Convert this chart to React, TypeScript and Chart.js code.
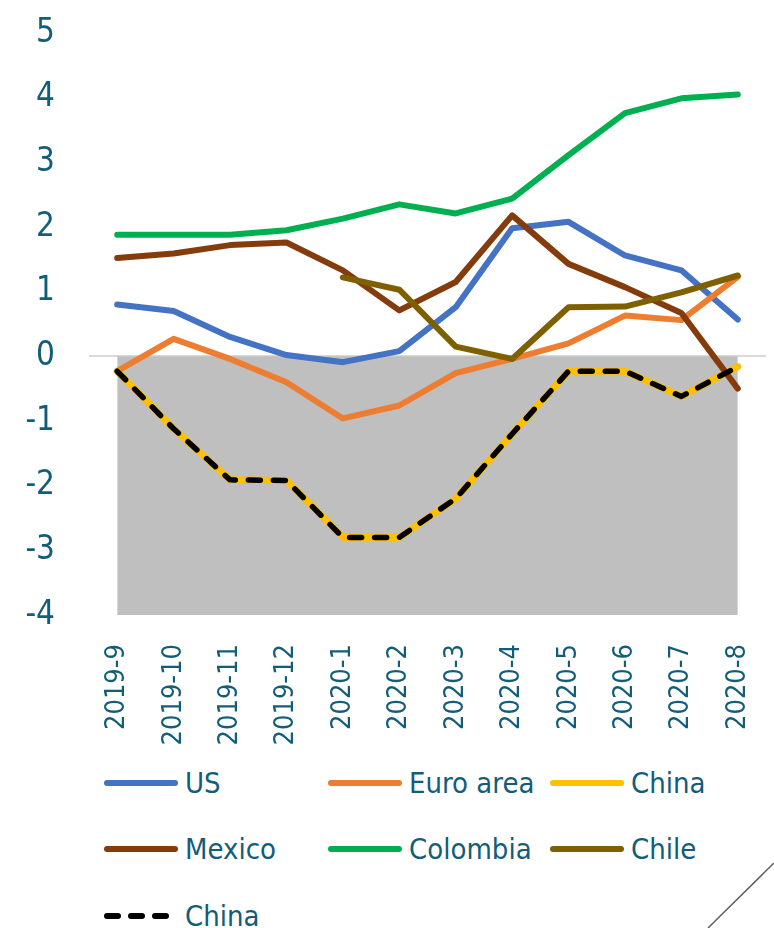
import React, { useEffect, useRef } from "react";
import { Chart, registerables } from "chart.js";

Chart.register(...registerables);

const categories = ["2019-9", "2019-10", "2019-11", "2019-12", "2020-1", "2020-2", "2020-3", "2020-4", "2020-5", "2020-6", "2020-7", "2020-8"];
const usValues = [0.80, 0.70, 0.30, 0.02, -0.09, 0.08, 0.76, 1.98, 2.08, 1.56, 1.33, 0.57];
const euroValues = [-0.23, 0.27, -0.04, -0.40, -0.96, -0.76, -0.26, -0.04, 0.20, 0.63, 0.56, 1.23];
const chinaValues = [-0.23, -1.12, -1.91, -1.92, -2.80, -2.80, -2.20, -1.20, -0.23, -0.23, -0.62, -0.16];
const mexicoValues = [1.52, 1.59, 1.72, 1.76, 1.33, 0.71, 1.15, 2.18, 1.43, 1.07, 0.67, -0.50];
const colombiaValues = [1.88, 1.88, 1.88, 1.95, 2.13, 2.35, 2.21, 2.44, 3.11, 3.76, 3.99, 4.05];
const chileValues = [null, null, null, null, 1.22, 1.03, 0.15, -0.04, 0.76, 0.77, 0.99, 1.25];
const bandValues = [-4, -4, -4, -4, -4, -4, -4, -4, -4, -4, -4, -4];
const yMin = -4;
const yMax = 5;

const TEXT = "#125D77";
const NARROW = "'Liberation Sans Narrow', 'DejaVu Sans Condensed', 'Liberation Sans', sans-serif";

const legendItems = [
  { label: "US", color: "#4472C4", dashed: false, col: 0, row: 0 },
  { label: "Euro area", color: "#ED7D31", dashed: false, col: 1, row: 0 },
  { label: "China", color: "#FFC000", dashed: false, col: 2, row: 0 },
  { label: "Mexico", color: "#843C0C", dashed: false, col: 0, row: 1 },
  { label: "Colombia", color: "#00B050", dashed: false, col: 1, row: 1 },
  { label: "Chile", color: "#7F6000", dashed: false, col: 2, row: 1 },
  { label: "China", color: "#000000", dashed: true, col: 0, row: 2 },
];

export default function App() {
  const ref = useRef<HTMLCanvasElement>(null);

  useEffect(() => {
    const line = (label: string, data: (number | null)[], color: string, order: number, extra: any = {}) => ({
      label,
      data,
      borderColor: color,
      backgroundColor: color,
      borderWidth: 6,
      pointRadius: 0,
      pointHoverRadius: 0,
      fill: false,
      tension: 0,
      borderCapStyle: "round",
      borderJoinStyle: "round",
      spanGaps: false,
      order,
      ...extra,
    });
    const zeroPad = (s: any) => {
      s.paddingLeft = 0;
      s.paddingRight = 0;
      s.paddingTop = 0;
      s.paddingBottom = 0;
    };
    const chart = new Chart(ref.current!, {
      type: "line",
      data: {
        labels: categories,
        datasets: [
          {
            label: "band",
            data: bandValues,
            borderWidth: 0,
            borderColor: "rgba(0,0,0,0)",
            backgroundColor: "#BFBFBF",
            pointRadius: 0,
            fill: "origin",
            order: 100,
          } as any,
          line("US", usValues, "#4472C4", 7),
          line("Euro area", euroValues, "#ED7D31", 6),
          line("China", chinaValues, "#FFC000", 5, { borderWidth: 7 }),
          line("Mexico", mexicoValues, "#843C0C", 4),
          line("Colombia", colombiaValues, "#00B050", 3),
          line("Chile", chileValues, "#7F6000", 2),
          line("China ", chinaValues, "#000000", 1, { borderDash: [12, 13], borderWidth: 5.5 }),
        ],
      },
      options: {
        animation: false,
        responsive: false,
        maintainAspectRatio: false,
        layout: { padding: { top: 33, right: 8, left: 0, bottom: 0 } },
        plugins: { legend: { display: false }, tooltip: { enabled: false } },
        scales: {
          x: {
            offset: true,
            grid: { display: false, drawTicks: false },
            border: { display: false },
            ticks: {
              autoSkip: false,
              minRotation: 90,
              maxRotation: 90,
              padding: 29,
              color: TEXT,
              font: { family: NARROW, size: 27 },
            },
            afterFit: (s: any) => {
              s.height = 145;
              zeroPad(s);
            },
          },
          y: {
            min: yMin,
            max: yMax,
            border: { display: false },
            grid: {
              drawTicks: false,
              lineWidth: 2,
              color: (ctx: any) => (ctx.tick && ctx.tick.value === 0 ? "#D9D9D9" : "rgba(0,0,0,0)"),
            },
            ticks: {
              stepSize: 1,
              padding: 34,
              color: TEXT,
              font: { family: NARROW, size: 33 },
            },
            afterFit: (s: any) => {
              s.width = 89;
              zeroPad(s);
            },
          },
        },
      },
    });
    return () => chart.destroy();
  }, []);

  const colLeft = [104, 328, 550];
  const rowCenter = [783, 849, 916];

  return (
    <div style={{ position: "absolute", left: 0, top: 0, width: 774, height: 928, background: "#fff", overflow: "hidden" }}>
      <canvas ref={ref} width={774} height={760} style={{ position: "absolute", left: 0, top: 0, width: 774, height: 760 }} />
      {legendItems.map((it, i) => (
        <div
          key={i}
          style={{
            position: "absolute",
            left: colLeft[it.col],
            top: rowCenter[it.row] - 20,
            height: 40,
            display: "flex",
            alignItems: "center",
            fontFamily: NARROW,
            fontSize: 29,
            color: TEXT,
            whiteSpace: "nowrap",
          }}
        >
          {it.dashed ? (
            <div style={{ width: 74, display: "flex", gap: 7 }}>
              {[0, 1, 2].map((k) => (
                <div key={k} style={{ width: 17, height: 6, borderRadius: 3, background: it.color }} />
              ))}
            </div>
          ) : (
            <div style={{ width: 74, height: 6, borderRadius: 3, background: it.color }} />
          )}
          <span style={{ marginLeft: 7 }}>{it.label}</span>
        </div>
      ))}
      <svg width={774} height={928} style={{ position: "absolute", left: 0, top: 0, pointerEvents: "none" }}>
        <line x1={774} y1={863} x2={708} y2={928} stroke="#606060" strokeWidth={1.5} />
      </svg>
    </div>
  );
}
